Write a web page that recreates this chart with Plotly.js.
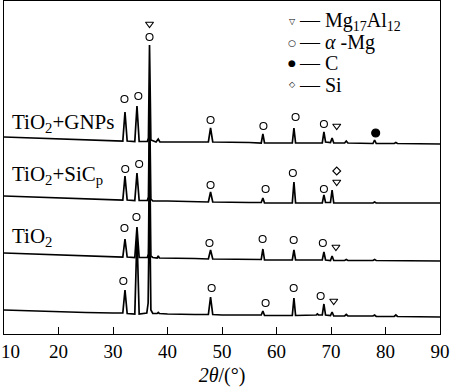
<!DOCTYPE html>
<html><head><meta charset="utf-8">
<script src="https://cdn.plot.ly/plotly-3.0.1.min.js"></script>
<style>html,body{margin:0;padding:0;background:#fff}#chart{width:450px;height:387px}</style>
</head><body><div id="chart"></div>
<script>
// 2θ (degrees) vs intensity (a.u.), patterns stacked with vertical offsets
const offsets = [0, 56, 113, 172];
const sampleNames = ['', 'TiO<sub>2</sub>', 'TiO<sub>2</sub>+SiC<sub>p</sub>', 'TiO<sub>2</sub>+GNPs'];
const tickValues = [10, 20, 30, 40, 50, 60, 70, 80, 90];

const patternBase = [[10,24],[15,23],[20,22],[25,21.5],[30,21],[31.8,21],[32.2,44],[32.6,20.5],[34.0,20],[34.4,99],[34.8,20],[36.2,21],[36.45,31],[36.7,144],[36.95,24],[37.3,20.5],[38.1,20.5],[38.3,21.5],[38.5,20.5],[40,20],[45,19.5],[47.5,19.5],[47.9,37],[48.3,19.5],[50,19],[55,19],[57.2,19],[57.5,23],[57.8,18.5],[60,18.5],[62.9,18.5],[63.2,36],[63.5,18.5],[67.3,19],[67.5,20],[67.7,19],[68.4,19],[68.7,30],[69.0,19],[69.9,18.5],[70.2,22],[70.5,18],[72.5,18],[72.8,19.5],[73.1,18],[77.7,18],[78.0,19],[78.3,17.5],[81.6,17.5],[81.9,19],[82.2,17.5],[90,17]];
const patternTiO2 = [[10,25],[15,24],[20,23],[25,22],[30,21],[31.8,21],[32.2,39],[32.6,21],[34.0,20.5],[34.4,51],[34.8,20.5],[36.3,20.5],[36.5,24],[36.7,138],[36.95,22],[37.3,20.5],[38.1,20],[38.3,22],[38.5,20],[40,20],[45,19.5],[47.5,19],[47.9,28],[48.3,19],[55,18.5],[57.2,18.5],[57.5,29],[57.8,18],[62.9,18],[63.2,28],[63.5,18],[68.4,18],[68.7,26],[69.0,18],[69.9,17.5],[70.2,22],[70.5,17.5],[72.5,17.5],[72.8,18.5],[73.1,17.5],[77.7,17.5],[78.0,18.5],[78.3,17.5],[90,17]];
const patternSiC = [[10,25],[15,24],[20,23],[25,22],[30,21],[31.8,21],[32.2,45],[32.6,21],[34.0,20.5],[34.4,48],[34.8,20.5],[36.3,20.5],[36.5,24],[36.7,121],[36.95,22],[37.3,20],[40,20],[45,19.5],[47.5,19],[47.9,29],[48.3,19],[55,18.5],[57.2,18.5],[57.5,23],[57.8,18],[62.9,18],[63.2,39],[63.5,18],[68.4,18],[68.7,26],[69.0,18.5],[69.9,18.5],[70.2,31],[70.5,18],[77.7,18],[78.0,19],[78.3,18],[90,18]];
const patternGNP = [[10,25],[15,24],[20,23],[25,22],[30,21],[31.8,21],[32.2,50],[32.6,21],[34.0,20.5],[34.4,56],[34.8,20.5],[36.3,20.5],[36.5,24],[36.7,117],[36.95,22],[37.3,21],[37.9,20],[38.3,23],[38.6,20],[40,20],[45,20],[47.5,20],[47.9,34],[48.3,20],[55,19.5],[57.2,19],[57.5,28],[57.8,19],[62.9,19],[63.2,34],[63.5,19],[68.4,19],[68.7,30],[69.0,20],[69.9,19.5],[70.2,24],[70.5,19],[72.5,19],[72.8,21],[73.1,19],[77.7,18.5],[78.0,22],[78.3,18.5],[81.6,18.5],[81.9,19.5],[82.2,18.5],[90,18]];

// phase identification marks (2θ, level above own baseline)
const baseAlphaMg = [[31.9,53],[48.1,46],[58.0,31],[63.15,46],[68.1,38]];
const baseMg17Al12 = [[70.5,33]];
const tio2AlphaMg = [[32.1,50],[34.3,61],[47.7,35],[57.45,39],[63.15,38],[68.5,35]];
const tio2Mg17Al12 = [[70.9,31]];
const sicAlphaMg = [[32.25,52],[34.8,57],[47.9,36],[58.0,32],[63.0,48],[68.7,32]];
const sicMg17Al12 = [[71.05,39]];
const sicSi = [[71.05,50]];
const gnpAlphaMg = [[32.1,63],[34.65,66],[36.7,125],[47.9,42],[57.6,36],[63.5,45],[68.7,38]];
const gnpMg17Al12 = [[36.7,138],[71.05,36]];
const gnpC = [[78.2,29]];

const patterns = [patternBase, patternTiO2, patternSiC, patternGNP];
const traces = [];
patterns.forEach((p, i) => {
  traces.push({x: p.map(d => d[0]), y: p.map(d => d[1] + offsets[i]), type: 'scatter', mode: 'lines',
    line: {color: '#000', width: 1.7}, hoverinfo: 'skip'});
});
function marks(arr, off, symbol, size) {
  traces.push({x: arr.map(d => d[0]), y: arr.map(d => d[1] + off), type: 'scatter', mode: 'markers',
    marker: {symbol: symbol, size: size, color: '#000', line: {color: '#000', width: 1.1}}, hoverinfo: 'skip'});
}
marks(baseAlphaMg, offsets[0], 'circle-open', 7);
marks(baseMg17Al12, offsets[0], 'triangle-down-open', 7);
marks(tio2AlphaMg, offsets[1], 'circle-open', 7);
marks(tio2Mg17Al12, offsets[1], 'triangle-down-open', 7);
marks(sicAlphaMg, offsets[2], 'circle-open', 7);
marks(sicMg17Al12, offsets[2], 'triangle-down-open', 7);
marks(sicSi, offsets[2], 'diamond-open', 6);
marks(gnpAlphaMg, offsets[3], 'circle-open', 7);
marks(gnpMg17Al12, offsets[3], 'triangle-down-open', 7);
marks(gnpC, offsets[3], 'circle', 8);

const F = 'Liberation Serif';
const annotations = [];
// sample labels
const labelY = [null, 97, 159, 211];
sampleNames.forEach((n, i) => {
  if (!n) return;
  annotations.push({xref: 'paper', yref: 'y', x: 0.013, y: labelY[i], xanchor: 'left', yanchor: 'middle',
    text: n, showarrow: false, font: {family: F, size: 21, color: '#000'}});
});
// first tick label, kept inside the figure
annotations.push({xref: 'x', yref: 'paper', x: 10, y: 0, xanchor: 'left', yanchor: 'top', xshift: -5, yshift: -5,
  text: '10', showarrow: false, font: {family: F, size: 19, color: '#000'}});
// phase key
const keySym = ['▽', '○', '●', '◇'];
const keySize = [8, 9, 9, 8];
const keyTxt = ['— Mg<sub>17</sub>Al<sub>12</sub>', '— <i>α</i> -Mg', '— C', '— Si'];
const keyY = [0.937, 0.874, 0.814, 0.748];
keySym.forEach((s, i) => {
  annotations.push({xref: 'paper', yref: 'paper', x: 0.661, y: keyY[i], xanchor: 'center', yanchor: 'middle',
    text: s, showarrow: false, font: {family: 'DejaVu Sans', size: keySize[i], color: '#000'}});
  annotations.push({xref: 'paper', yref: 'paper', x: 0.672, y: keyY[i], xanchor: 'left', yanchor: 'middle',
    text: keyTxt[i], showarrow: false, font: {family: F, size: 20, color: '#000'}});
});

const layout = {
  width: 450, height: 387,
  margin: {l: 4, r: 10, t: 1, b: 53},
  paper_bgcolor: '#fff', plot_bgcolor: '#fff',
  showlegend: false,
  font: {family: F, size: 19, color: '#000'},
  xaxis: {range: [10, 90], tickvals: tickValues, ticktext: tickValues.map(v => v === 10 ? '' : String(v)),
    ticks: 'inside', ticklen: 7, tickwidth: 1, tickcolor: '#000',
    showline: true, mirror: true, linecolor: '#000', linewidth: 1, showgrid: false, zeroline: false,
    tickfont: {family: F, size: 19, color: '#000'},
    title: {text: '<i>2θ</i>/(°)', font: {family: F, size: 20, color: '#000'}, standoff: 8}},
  yaxis: {range: [0, 333], showticklabels: false, ticks: '', showline: true, mirror: true,
    linecolor: '#000', linewidth: 1, showgrid: false, zeroline: false},
  annotations: annotations
};
Plotly.newPlot('chart', traces, layout, {staticPlot: true, displayModeBar: false});
</script></body></html>
